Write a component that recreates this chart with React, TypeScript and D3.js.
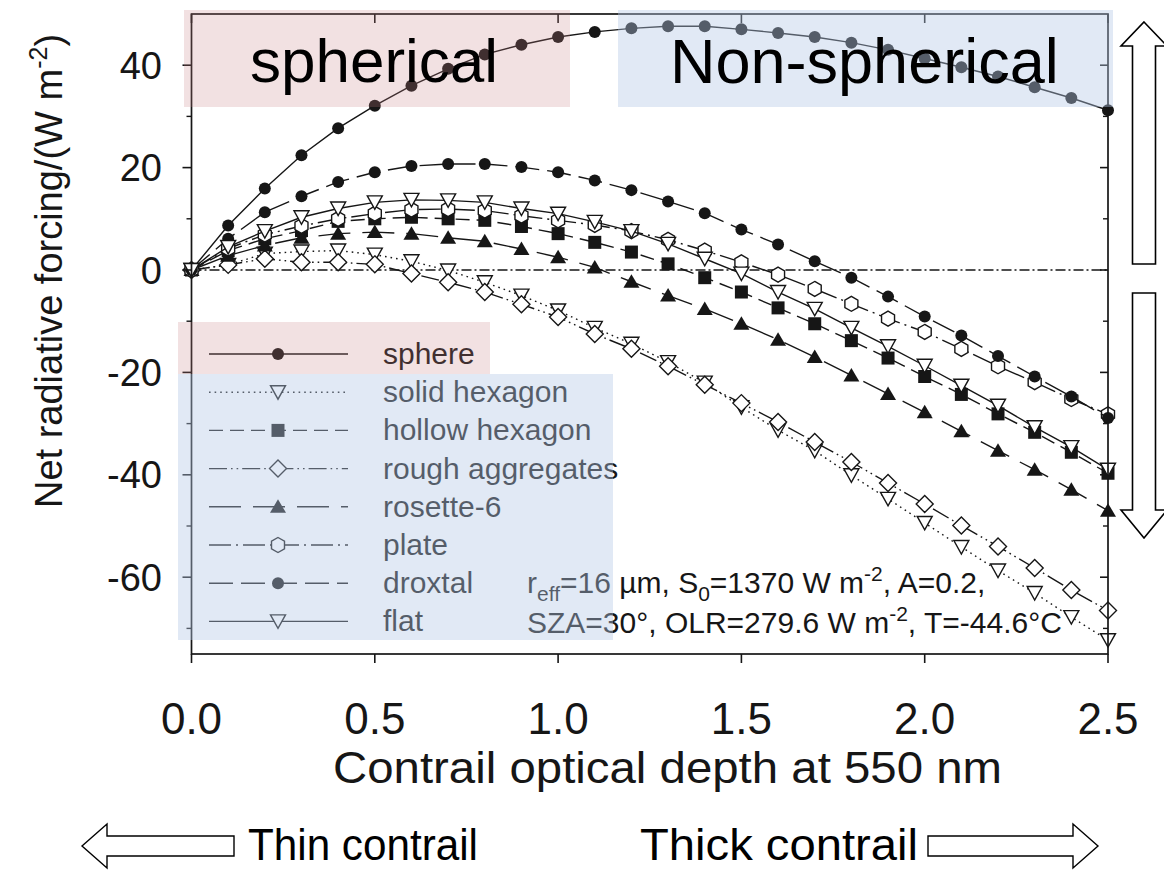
import React from "react";
import * as d3 from "d3";

// Optical depth sample points (x) and net radiative forcing (W m^-2) per habit
const OPTICAL_DEPTH = [0, 0.1, 0.2, 0.3, 0.4, 0.5, 0.6, 0.7, 0.8, 0.9, 1.0, 1.1, 1.2, 1.3, 1.4, 1.5, 1.6, 1.7, 1.8, 1.9, 2.0, 2.1, 2.2, 2.3, 2.4, 2.5];

const SPHERE = [0, 8.7, 15.9, 22.4, 27.7, 32.1, 36.0, 39.3, 42.1, 44.0, 45.5, 46.5, 47.2, 47.6, 47.6, 47.0, 46.3, 45.5, 44.4, 43.0, 41.3, 39.6, 37.8, 35.7, 33.6, 31.2];
const SOLID_HEXAGON = [0, 1.0, 3.2, 3.6, 3.8, 3.0, 1.7, -0.1, -2.4, -5.0, -7.9, -11.3, -14.4, -18.0, -22.0, -26.8, -31.3, -35.3, -40.1, -44.7, -49.4, -54.1, -58.7, -63.1, -67.8, -72.3];
const HOLLOW_HEXAGON = [0, 3.8, 6.1, 7.7, 9.5, 10.0, 10.3, 10.0, 9.7, 8.5, 7.1, 5.4, 3.5, 1.2, -1.5, -4.3, -7.4, -10.5, -13.8, -17.2, -20.8, -24.3, -28.1, -31.7, -35.6, -39.7];
const ROUGH_AGGREGATES = [0, 1.0, 2.2, 1.5, 1.5, 1.1, -0.7, -2.4, -4.3, -6.7, -9.2, -12.5, -15.4, -18.8, -22.4, -26.0, -29.7, -33.6, -37.5, -41.6, -45.7, -49.9, -54.0, -58.2, -62.5, -66.5];
const ROSETTE_6 = [0, 2.8, 4.8, 6.3, 7.1, 7.4, 7.1, 6.3, 5.6, 4.1, 2.5, 0.5, -2.3, -5.0, -7.6, -10.5, -13.6, -17.0, -20.6, -24.2, -27.8, -31.5, -35.3, -39.0, -42.9, -47.0];
const PLATE = [0, 4.2, 6.9, 8.6, 10.0, 11.0, 11.8, 11.9, 11.6, 10.6, 9.7, 8.8, 7.6, 5.9, 3.8, 1.5, -0.9, -3.7, -6.6, -9.5, -12.1, -15.4, -18.8, -21.9, -25.2, -28.2];
const DROXTAL = [0, 6.1, 11.3, 14.4, 17.2, 19.1, 20.3, 20.7, 20.7, 20.1, 19.1, 17.5, 15.6, 13.4, 11.1, 7.9, 5.0, 1.7, -1.5, -5.2, -9.1, -12.8, -16.8, -20.8, -24.7, -28.9];
const FLAT = [0, 4.5, 7.6, 10.3, 12.0, 13.2, 13.7, 13.6, 13.2, 12.0, 11.0, 9.4, 7.6, 5.1, 2.2, -0.7, -4.3, -7.6, -11.3, -14.9, -18.7, -22.6, -26.5, -30.7, -34.6, -39.0];

const X_TICKS = [0, 0.5, 1.0, 1.5, 2.0, 2.5];
const X_TICK_LABELS = ["0.0", "0.5", "1.0", "1.5", "2.0", "2.5"];
const Y_TICKS = [40, 20, 0, -20, -40, -60];
const Y_MINOR_TICKS = [30, 10, -10, -30, -50, -70];

type MarkerKind = "dot" | "triDown" | "square" | "diamond" | "triUp" | "hexagon";

interface Series {
  name: string;
  values: number[];
  dash: string;
  marker: MarkerKind;
}

const SERIES: Series[] = [
  { name: "sphere", values: SPHERE, dash: "", marker: "dot" },
  { name: "solid hexagon", values: SOLID_HEXAGON, dash: "1.6,4", marker: "triDown" },
  { name: "hollow hexagon", values: HOLLOW_HEXAGON, dash: "14,7", marker: "square" },
  { name: "rough aggregates", values: ROUGH_AGGREGATES, dash: "18,4,1.6,4,1.6,4", marker: "diamond" },
  { name: "rosette-6", values: ROSETTE_6, dash: "32,12", marker: "triUp" },
  { name: "plate", values: PLATE, dash: "22,5,2,5", marker: "hexagon" },
  { name: "droxtal", values: DROXTAL, dash: "24,8", marker: "dot" },
  { name: "flat", values: FLAT, dash: "", marker: "triDown" },
];

const FONT = "'Liberation Sans', Arial, Helvetica, sans-serif";
const INK = "#161616";

const W = 1164;
const H = 870;
const X0 = 191.5;
const X1 = 1108;
const YTOP = 14;
const YBOT = 654;

const x = d3.scaleLinear().domain([0, 2.5]).range([X0, X1]);
const y = d3.scaleLinear().domain([-75, 50]).range([YBOT, YTOP]);

function Marker({ kind, cx, cy }: { kind: MarkerKind; cx: number; cy: number }) {
  const sw = 1.4;
  switch (kind) {
    case "dot":
      return <circle cx={cx} cy={cy} r={6} fill={INK} />;
    case "square":
      return <rect x={cx - 6.5} y={cy - 6.5} width={13} height={13} fill={INK} />;
    case "triUp":
      return <polygon points={`${cx},${cy - 7.5} ${cx + 8},${cy + 6} ${cx - 8},${cy + 6}`} fill={INK} />;
    case "triDown":
      return (
        <polygon
          points={`${cx - 7.5},${cy - 6.5} ${cx + 7.5},${cy - 6.5} ${cx},${cy + 7}`}
          fill="#fff"
          stroke={INK}
          strokeWidth={sw}
        />
      );
    case "diamond":
      return (
        <polygon
          points={`${cx},${cy - 8.5} ${cx + 8.5},${cy} ${cx},${cy + 8.5} ${cx - 8.5},${cy}`}
          fill="#fff"
          stroke={INK}
          strokeWidth={sw}
        />
      );
    case "hexagon": {
      const r = 7.5;
      const pts = [-90, -30, 30, 90, 150, 210]
        .map((a) => `${cx + r * Math.cos((a * Math.PI) / 180)},${cy + r * Math.sin((a * Math.PI) / 180)}`)
        .join(" ");
      return <polygon points={pts} fill="#fff" stroke={INK} strokeWidth={sw} />;
    }
  }
  return null;
}

const LEGEND_ROW0 = 354;
const LEGEND_STEP = 38.2;

export default function App() {
  const line = d3
    .line<number>()
    .x((_, i) => x(OPTICAL_DEPTH[i]))
    .y((d) => y(d));

  return (
    <svg
      width={W}
      height={H}
      viewBox={`0 0 ${W} ${H}`}
      style={{ position: "absolute", left: 0, top: 0, background: "#fff" }}
      fontFamily={FONT}
    >
      <rect x={0} y={0} width={W} height={H} fill="#fff" />

      {/* zero reference line */}
      <line
        x1={x(0)}
        x2={x(2.5)}
        y1={y(0)}
        y2={y(0)}
        stroke={INK}
        strokeWidth={1.3}
        strokeDasharray="10,3,2,3"
      />

      {/* curves */}
      {SERIES.map((s) => (
        <g key={s.name}>
          <path
            d={line(s.values) ?? ""}
            fill="none"
            stroke={INK}
            strokeWidth={1.4}
            strokeDasharray={s.dash || undefined}
          />
          {s.values.map((v, i) => (
            <Marker key={i} kind={s.marker} cx={x(OPTICAL_DEPTH[i])} cy={y(v)} />
          ))}
        </g>
      ))}

      {/* frame */}
      <rect x={X0} y={YTOP} width={X1 - X0} height={YBOT - YTOP} fill="none" stroke={INK} strokeWidth={1.7} />

      {/* x ticks */}
      {X_TICKS.map((t, i) => (
        <g key={`xt${i}`}>
          <line x1={x(t)} x2={x(t)} y1={YBOT} y2={YBOT + 9} stroke={INK} strokeWidth={1.6} />
          <line x1={x(t)} x2={x(t)} y1={YTOP} y2={YTOP + 9} stroke={INK} strokeWidth={1.6} />
          <text x={x(t)} y={734} fontSize={44} textAnchor="middle" fill={INK}>
            {X_TICK_LABELS[i]}
          </text>
        </g>
      ))}

      {/* y ticks */}
      {Y_TICKS.map((t) => (
        <g key={`yt${t}`}>
          <line x1={X0 - 9} x2={X0} y1={y(t)} y2={y(t)} stroke={INK} strokeWidth={1.6} />
          <line x1={X1 - 8} x2={X1} y1={y(t)} y2={y(t)} stroke={INK} strokeWidth={1.6} />
          <text x={162} y={y(t) + 13.5} fontSize={38} textAnchor="end" fill={INK}>
            {String(t)}
          </text>
        </g>
      ))}
      {Y_MINOR_TICKS.map((t) => (
        <g key={`ym${t}`}>
          <line x1={X0 - 5} x2={X0} y1={y(t)} y2={y(t)} stroke={INK} strokeWidth={1.4} />
          <line x1={X1 - 5} x2={X1} y1={y(t)} y2={y(t)} stroke={INK} strokeWidth={1.4} />
        </g>
      ))}

      {/* axis titles */}
      <text
        x={333}
        y={783}
        fontSize={45}
        fill={INK}
        textLength={669}
        lengthAdjust="spacingAndGlyphs"
      >
        Contrail optical depth at 550 nm
      </text>
      <text transform="translate(62,271) rotate(-90)" fontSize={38} textAnchor="middle" fill={INK}>
        Net radiative forcing/(W m
        <tspan fontSize={25} dy={-15}>-2</tspan>
        <tspan dy={15}>)</tspan>
      </text>

      {/* legend */}
      {SERIES.map((s, i) => {
        const ry = LEGEND_ROW0 + i * LEGEND_STEP;
        return (
          <g key={`lg${s.name}`}>
            <line
              x1={209}
              x2={348}
              y1={ry}
              y2={ry}
              stroke={INK}
              strokeWidth={1.4}
              strokeDasharray={s.dash || undefined}
            />
            <Marker kind={s.marker} cx={278} cy={ry} />
            <text x={383} y={ry + 10} fontSize={30} fill={INK}>
              {s.name}
            </text>
          </g>
        );
      })}

      {/* run conditions */}
      <text x={527} y={593} fontSize={30} fill={INK}>
        r<tspan fontSize={21} dy={8}>eff</tspan>
        <tspan dy={-8}>=16 µm, S</tspan>
        <tspan fontSize={21} dy={8}>0</tspan>
        <tspan dy={-8}>=1370 W m</tspan>
        <tspan fontSize={21} dy={-12}>-2</tspan>
        <tspan dy={12}>, A=0.2,</tspan>
      </text>
      <text x={527} y={633} fontSize={30} fill={INK}>
        SZA=30°, OLR=279.6 W m
        <tspan fontSize={21} dy={-12}>-2</tspan>
        <tspan dy={12}>, T=-44.6°C</tspan>
      </text>

      {/* translucent group highlights */}
      <rect x={184} y={10} width={386} height={97} fill="rgb(200,130,135)" fillOpacity={0.24} />
      <rect x={618} y={10} width={495} height={97} fill="rgb(180,199,231)" fillOpacity={0.4} />
      <rect x={178} y={322} width={312} height={52} fill="rgb(200,130,135)" fillOpacity={0.24} />
      <rect x={178} y={374} width={435} height={266} fill="rgb(180,199,231)" fillOpacity={0.4} />

      <text x={250} y={82} fontSize={62} fill="#000">
        spherical
      </text>
      <text x={670} y={83} fontSize={63} fill="#000">
        Non-spherical
      </text>

      {/* warming / cooling arrows */}
      <polygon
        points="1144,22 1167,46 1155.5,46 1155.5,264 1132.5,264 1132.5,46 1121,46"
        fill="#fff"
        stroke="#000"
        strokeWidth={1.6}
      />
      <polygon
        points="1132.5,293 1155.5,293 1155.5,510 1167,510 1144,538 1121,510 1132.5,510"
        fill="#fff"
        stroke="#000"
        strokeWidth={1.6}
      />

      {/* thin / thick arrows */}
      <polygon
        points="82,846 107,824 107,836 234,836 234,856 107,856 107,868"
        fill="#fff"
        stroke="#000"
        strokeWidth={1.4}
      />
      <text x={248} y={860} fontSize={44} fill="#000" textLength={230} lengthAdjust="spacingAndGlyphs">
        Thin contrail
      </text>
      <text x={640} y={860} fontSize={44} fill="#000" textLength={278} lengthAdjust="spacingAndGlyphs">
        Thick contrail
      </text>
      <polygon
        points="1098,846 1073,824 1073,836 928,836 928,856 1073,856 1073,868"
        fill="#fff"
        stroke="#000"
        strokeWidth={1.4}
      />
    </svg>
  );
}
